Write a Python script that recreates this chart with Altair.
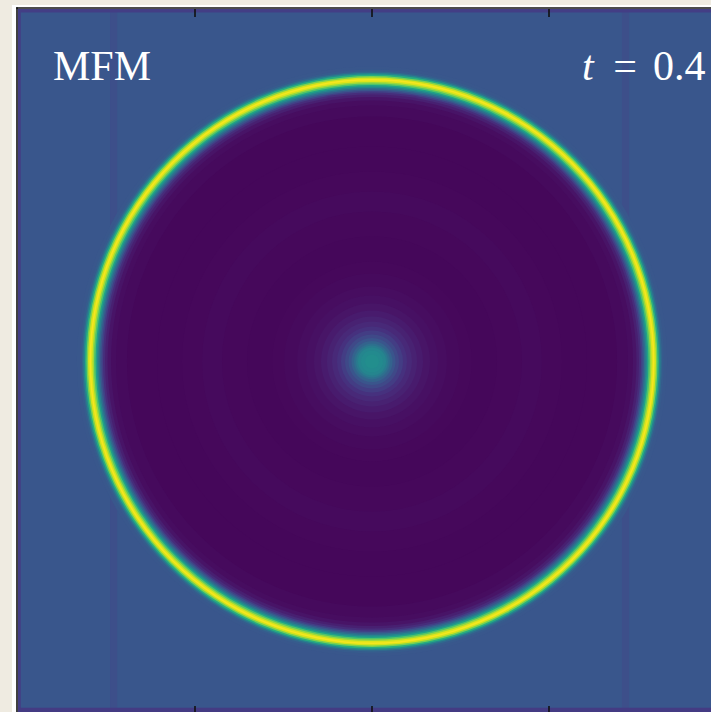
import altair as alt
import pandas as pd

# Plot geometry (pixels)
PLOT_W = 693          # visible part of the 708 px wide box
PLOT_H = 703          # visible part of the 705 px tall box
PX_PER_UNIT_X = 708
PX_PER_UNIT_Y = 705

# Radial density profile of the blast wave: radius (box units) and density,
# listed from the outside in.
profile_radius = [
    0.4167, 0.4124, 0.4096, 0.4075, 0.4054, 0.4032, 0.4011, 0.3990, 0.3969,
    0.3948, 0.3927, 0.3905, 0.3884, 0.3863, 0.3842, 0.3821, 0.3799, 0.3771,
    0.3736, 0.3686, 0.3616, 0.3460, 0.3037, 0.2684, 0.2401, 0.2119, 0.1766,
    0.1412, 0.1243, 0.1059, 0.0932, 0.0819, 0.0720, 0.0636, 0.0565, 0.0494,
    0.0438, 0.0381, 0.0332, 0.0290, 0.0254, 0.0226, 0.0198, 0.0155, 0.0099,
]
profile_density = [
    1.08, 1.14, 1.35, 1.80, 2.50, 3.20, 3.75, 3.95, 3.80,
    3.40, 2.90, 2.30, 1.80, 1.40, 1.05, 0.75, 0.50, 0.34,
    0.20, 0.12, 0.09, 0.065, 0.06, 0.075, 0.09, 0.075, 0.06,
    0.07, 0.09, 0.12, 0.16, 0.21, 0.28, 0.36, 0.45, 0.56,
    0.70, 0.86, 1.05, 1.25, 1.45, 1.65, 1.80, 1.90, 1.95,
]
centre_x = 0.5
centre_y = 0.5
ambient_density = 1.07

# Faint vertical columns in the ambient medium
column_x0 = [0.130, 0.853]
column_x1 = [0.140, 0.863]
column_density = [0.95, 0.95]

# Low-density strips along the box boundaries (left, top, bottom)
edge_x0 = [0.0, 0.0, 0.0]
edge_x1 = [0.0040, 1.0, 1.0]
edge_y0 = [0.0, 0.9950, 0.0]
edge_y1 = [1.0, 1.0, 0.0090]
edge_density = [0.72, 0.72, 0.68]

tick_positions = [0.25, 0.5, 0.75]

label_method = "MFM"
label_time_symbol = "t"
label_time_equals = "="
label_time_value = "0.4"

x_scale = alt.Scale(domain=[0, PLOT_W / PX_PER_UNIT_X], nice=False, zero=False)
y_scale = alt.Scale(domain=[1 - PLOT_H / PX_PER_UNIT_Y, 1], nice=False, zero=False)
color_scale = alt.Scale(scheme="viridis", domain=[0, 4])
radius_scale = alt.Scale(type="linear", domain=[0, 1], range=[0, PX_PER_UNIT_X], zero=True)

disk_df = pd.DataFrame({
    "cx": centre_x,
    "cy": centre_y,
    "r": profile_radius,
    "rho": profile_density,
})
ambient_df = pd.DataFrame({"rho": [ambient_density]})
column_df = pd.DataFrame({"x0": column_x0, "x1": column_x1, "rho": column_density})
edge_df = pd.DataFrame({
    "x0": edge_x0, "x1": edge_x1, "y0": edge_y0, "y1": edge_y1, "rho": edge_density,
})
tick_df = pd.DataFrame({"tick": tick_positions})

colour = alt.Color("rho:Q", scale=color_scale, legend=None)

# White figure margin around the axes box
margin = alt.Chart(ambient_df).mark_rect(color="white").encode(
    x=alt.value(-6), x2=alt.value(PLOT_W + 20),
    y=alt.value(-4), y2=alt.value(PLOT_H + 20),
)

ambient = alt.Chart(ambient_df).mark_rect().encode(
    x=alt.value(0), x2=alt.value(PLOT_W),
    y=alt.value(0), y2=alt.value(PLOT_H),
    color=colour,
)

columns = alt.Chart(column_df).mark_rect(clip=True).encode(
    x=alt.X("x0:Q", scale=x_scale, axis=None),
    x2="x1:Q",
    y=alt.value(0), y2=alt.value(PLOT_H),
    color=colour,
)

# Nested filled disks, largest first, so each band shows its own density
disks = alt.Chart(disk_df).mark_arc(clip=True, theta=0, theta2=6.2832).encode(
    x=alt.X("cx:Q", scale=x_scale, axis=None),
    y=alt.Y("cy:Q", scale=y_scale, axis=None),
    radius=alt.Radius("r:Q", scale=radius_scale, stack=False),
    color=colour,
)

edges = alt.Chart(edge_df).mark_rect(clip=True).encode(
    x=alt.X("x0:Q", scale=x_scale, axis=None),
    x2="x1:Q",
    y=alt.Y("y0:Q", scale=y_scale, axis=None),
    y2="y1:Q",
    color=colour,
)

frame_left = alt.Chart(ambient_df).mark_rule(color="#111111", strokeWidth=1.6).encode(
    x=alt.value(-1), y=alt.value(-1.8), y2=alt.value(PLOT_H + 10),
)
frame_top = alt.Chart(ambient_df).mark_rule(color="#111111", strokeWidth=1.6).encode(
    x=alt.value(-1.8), x2=alt.value(PLOT_W + 10), y=alt.value(-1),
)

ticks_top = alt.Chart(tick_df).mark_rule(color="#111111", strokeWidth=1.6).encode(
    x=alt.X("tick:Q", scale=x_scale, axis=None),
    y=alt.value(0), y2=alt.value(8),
)
ticks_bottom = alt.Chart(tick_df).mark_rule(color="#111111", strokeWidth=1.6).encode(
    x=alt.X("tick:Q", scale=x_scale, axis=None),
    y=alt.value(PX_PER_UNIT_Y - 8), y2=alt.value(PX_PER_UNIT_Y),
)

text_style = dict(font="Liberation Serif", fontSize=42, color="white", baseline="alphabetic")
method_text = alt.Chart(ambient_df).mark_text(align="left", text=label_method, **text_style).encode(
    x=alt.value(35), y=alt.value(71),
)
time_symbol = alt.Chart(ambient_df).mark_text(
    align="left", text=label_time_symbol, fontStyle="italic", **text_style
).encode(x=alt.value(564), y=alt.value(71))
time_equals = alt.Chart(ambient_df).mark_text(align="center", text=label_time_equals, **text_style).encode(
    x=alt.value(607), y=alt.value(71),
)
time_value = alt.Chart(ambient_df).mark_text(align="left", text=label_time_value, **text_style).encode(
    x=alt.value(635), y=alt.value(71),
)

chart = alt.layer(
    margin, ambient, columns, disks, edges,
    frame_left, frame_top, ticks_top, ticks_bottom,
    method_text, time_symbol, time_equals, time_value,
).properties(
    width=PLOT_W,
    height=PLOT_H,
    padding={"left": 18, "top": 9, "right": 0, "bottom": 0},
    autosize="none",
    background="#efebe1",
).configure_view(stroke=None)

chart.save("out.html", embed_options={"renderer": "svg", "actions": False})
